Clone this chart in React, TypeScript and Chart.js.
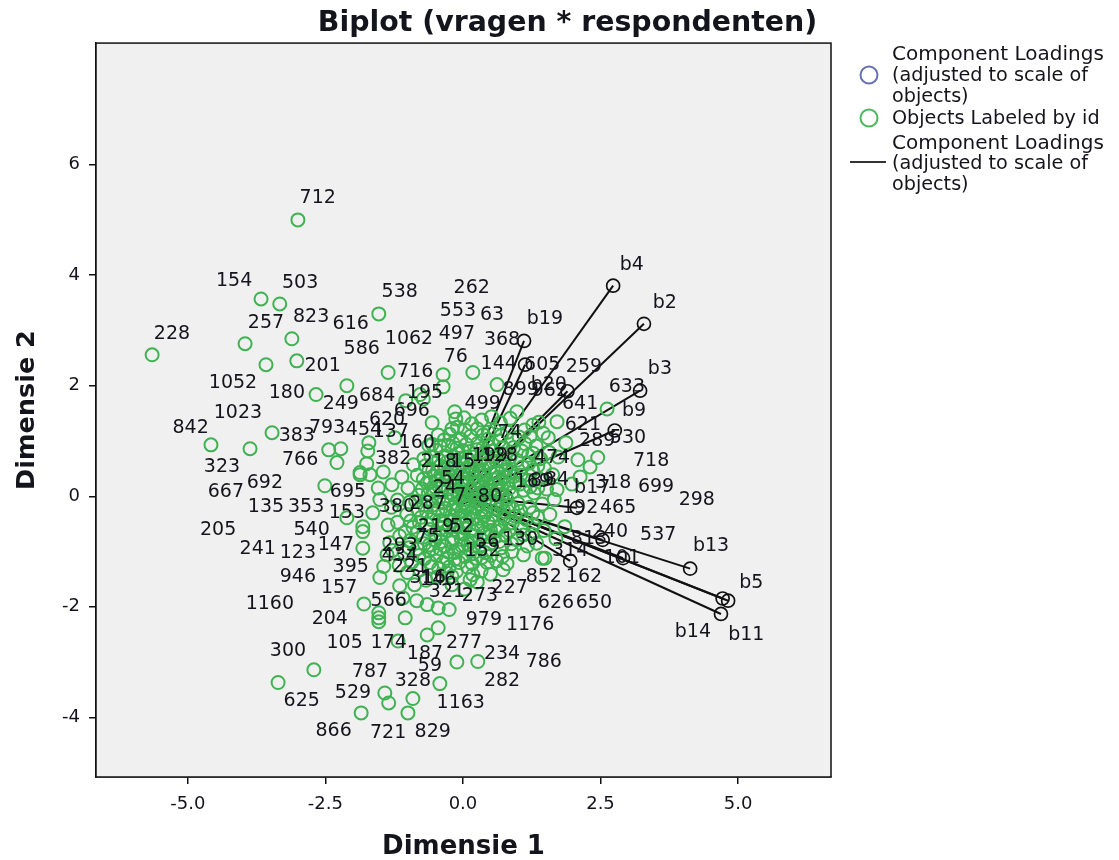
import React, { useEffect, useRef } from "react";
import { Chart, registerables } from "chart.js";

Chart.register(...registerables);

const FONT = '"DejaVu Sans", sans-serif';
const xTicks = [-5, -2.5, 0, 2.5, 5];
const yTicks = [-4, -2, 0, 2, 4, 6];
const xRange = [-6.67, 6.69];
const yRange = [-5.08, 8.2];

const loadingNames = ["b4", "b2", "b3", "b9", "b19", "b7", "b20", "b13", "b5", "b11", "b14", "b17", "b1", "b8", "b6", "b10", "b12"];
const loadingX = [2.73, 3.29, 3.22, 2.76, 1.11, 1.13, 1.9, 4.13, 4.72, 4.82, 4.69, 0.78, 2.07, 2.91, 2.54, 1.95, 0.0];
const loadingY = [3.81, 3.12, 1.91, 1.19, 2.81, 2.38, 1.9, -1.31, -1.85, -1.89, -2.13, 0.0, -0.21, -1.12, -0.79, -1.17, -0.02];

const outerObjects: [number, number][] = [
  [-3.0, 5.0], [-3.67, 3.57], [-3.33, 3.48], [-1.53, 3.3], [-3.96, 2.76], [-3.11, 2.85], [-5.65, 2.56], [-3.58, 2.38],
  [-3.02, 2.45], [-1.36, 2.24], [-0.36, 2.2], [-0.36, 1.98], [-2.11, 2.0], [-2.67, 1.84], [-1.04, 1.73], [-0.78, 1.84],
  [-0.72, 1.76], [-3.47, 1.15], [-4.58, 0.93], [-3.87, 0.86], [-2.44, 0.84], [-2.22, 0.86], [-2.29, 0.61], [-0.56, 1.33],
  [-1.24, 1.06], [-1.71, 0.97], [-1.73, 0.82], [-1.75, 0.59], [-1.45, 0.44], [-1.87, 0.43], [-2.11, -0.39], [-1.64, -0.3],
  [-1.82, -0.55], [-1.82, -0.64], [-1.82, -0.94], [-1.38, -1.06], [-1.44, -1.27], [-1.51, -1.47], [-1.15, -1.62], [-1.8, -1.95],
  [-1.53, -2.11], [-1.53, -2.2], [-1.53, -2.27], [-1.09, -1.84], [-1.05, -2.2], [-0.84, -1.89], [-0.65, -1.96], [-0.45, -2.02],
  [-0.25, -2.05], [-1.18, -2.62], [-0.45, -2.38], [-0.65, -2.51], [-2.71, -3.14], [-3.36, -3.37], [-0.11, -3.0], [0.27, -2.99],
  [-0.42, -3.39], [-1.42, -3.56], [-1.35, -3.74], [-0.91, -3.66], [-1.0, -3.92], [-1.85, -3.92], [0.73, -1.33], [2.62, 1.58],
  [2.09, 0.66], [2.45, 0.7], [2.31, 0.53], [2.13, 0.35], [1.98, 0.22], [1.87, 0.97], [1.71, 1.35], [1.85, -0.55],
  [1.44, -1.12], [1.49, -1.12], [-2.51, 0.19], [-1.54, 0.15], [-1.51, -0.06], [-1.87, 0.39], [-1.69, 0.39], [-1.29, 0.21],
  [-1.0, 0.15], [-1.11, 0.35], [-0.9, 0.57], [-0.65, 0.24], [-1.36, -0.52], [-1.33, -0.84], [0.89, -1.0], [0.44, -1.2],
  [0.13, -1.51], [-0.29, -1.39], [1.71, 0.12], [1.55, 1.06], [1.27, 1.29], [0.98, 1.53], [0.62, 2.02], [0.18, 2.24],
  [-0.15, 1.53], [-0.13, 1.4], [-0.1, 1.25], [-0.45, 1.11],
];

const coreObjects: [number, number][] = [
  [0.02, 1.42], [0.16, 1.31], [0.34, 1.38], [0.52, 1.44], [0.68, 1.33], [0.86, 1.41], [1.12, 1.2], [1.38, 1.34],
  [1.46, 1.14], [1.02, 1.07], [0.81, 1.16], [0.58, 1.2], [0.37, 1.11], [0.14, 1.09], [-0.04, 1.03], [-0.27, 0.92],
  [-0.49, 0.83], [-0.71, 0.68], [-0.33, 0.73], [-0.11, 0.87], [0.06, 0.94], [0.27, 0.96], [0.47, 0.9], [0.66, 1.0],
  [0.92, 0.88], [1.13, 0.95], [1.33, 0.91], [1.57, 0.79], [1.73, 0.71], [1.41, 0.68], [1.19, 0.74], [0.98, 0.65],
  [0.77, 0.76], [0.55, 0.71], [0.36, 0.78], [0.18, 0.71], [-0.02, 0.69], [-0.19, 0.58], [-0.41, 0.55], [-0.62, 0.46],
  [-0.83, 0.38], [-0.51, 0.36], [-0.27, 0.41], [-0.06, 0.5], [0.12, 0.55], [0.3, 0.59], [0.49, 0.52], [0.69, 0.56],
  [0.88, 0.44], [1.08, 0.53], [1.27, 0.47], [1.48, 0.51], [1.63, 0.39], [1.39, 0.31], [1.18, 0.29], [0.97, 0.24],
  [0.76, 0.35], [0.57, 0.3], [0.39, 0.38], [0.21, 0.33], [0.03, 0.31], [-0.15, 0.24], [-0.36, 0.2], [-0.54, 0.09],
  [-0.8, 0.02], [-0.97, -0.11], [-1.19, -0.07], [-0.71, -0.16], [-0.44, -0.05], [-0.23, 0.06], [-0.04, 0.14], [0.14, 0.12],
  [0.33, 0.18], [0.51, 0.11], [0.71, 0.15], [0.89, 0.07], [1.1, 0.11], [1.29, 0.06], [1.52, 0.13], [1.66, -0.06],
  [1.44, -0.14], [1.21, -0.2], [1.0, -0.13], [0.8, -0.06], [0.62, -0.12], [0.42, -0.04], [0.23, -0.09], [0.05, -0.05],
  [-0.13, -0.13], [-0.31, -0.22], [-0.52, -0.31], [-0.76, -0.38], [-1.02, -0.33], [-1.19, -0.47], [-0.91, -0.56], [-0.66, -0.5],
  [-0.43, -0.44], [-0.21, -0.36], [-0.03, -0.28], [0.16, -0.3], [0.35, -0.24], [0.55, -0.33], [0.74, -0.27], [0.95, -0.36],
  [1.15, -0.42], [1.36, -0.38], [1.58, -0.33], [1.69, -0.77], [1.47, -0.62], [1.26, -0.69], [1.05, -0.58], [0.84, -0.49],
  [0.64, -0.56], [0.46, -0.47], [0.27, -0.51], [0.07, -0.46], [-0.11, -0.55], [-0.3, -0.62], [-0.5, -0.69], [-0.72, -0.74],
  [-0.96, -0.8], [-1.15, -0.72], [-1.28, -0.98], [-1.07, -1.02], [-0.83, -0.95], [-0.61, -0.88], [-0.39, -0.82], [-0.18, -0.76],
  [0.01, -0.68], [0.19, -0.72], [0.38, -0.66], [0.57, -0.75], [0.77, -0.7], [0.98, -0.78], [1.17, -0.9], [1.34, -0.85],
  [1.1, -1.06], [0.7, -0.93], [0.49, -0.86], [0.29, -0.92], [0.09, -0.87], [-0.08, -0.96], [-0.27, -1.01], [-0.48, -1.07],
  [-0.7, -1.13], [-0.93, -1.2], [-1.16, -1.25], [-1.01, -1.38], [-0.78, -1.33], [-0.57, -1.27], [-0.36, -1.2], [-0.15, -1.14],
  [0.04, -1.09], [0.23, -1.12], [0.61, -1.17], [0.8, -1.22], [0.33, -1.35], [0.08, -1.28], [-0.12, -1.36], [-0.46, -1.46],
  [-0.67, -1.52], [-0.2, -1.6], [0.03, -1.68], [0.26, -1.55], [0.5, -1.41], [-0.88, -1.6], [-0.1, 0.33], [0.1, -0.18],
  [0.28, 0.02], [0.44, 0.24], [0.62, 0.43], [-0.3, 0.31], [-0.18, -0.2], [0.32, -0.4], [0.72, 0.02], [0.18, 0.45],
  [-0.08, 0.78], [0.25, 0.84], [0.45, 1.03], [-0.24, 1.12], [-0.34, 1.02], [-0.62, 0.92], [-0.16, -0.6], [0.13, -0.98],
  [-0.4, -0.58], [-0.55, -0.95], [-0.25, -1.28], [0.4, -1.02], [0.6, -0.63], [0.9, -0.22], [1.05, 0.38], [0.83, 0.58],
];

const denseObjects: [number, number][] = [
  [-0.58, 0.71], [-0.44, 0.66], [-0.29, 0.62], [-0.16, 0.71], [-0.03, 0.59], [0.08, 0.66], [0.22, 0.6], [0.34, 0.67],
  [0.46, 0.61], [0.6, 0.64], [0.73, 0.67], [0.86, 0.71], [-0.68, 0.55], [-0.55, 0.47], [-0.46, 0.44], [-0.33, 0.49],
  [-0.22, 0.5], [-0.11, 0.42], [0.0, 0.44], [0.1, 0.41], [0.25, 0.47], [0.37, 0.48], [0.52, 0.41], [0.64, 0.34],
  [0.78, 0.48], [0.92, 0.36], [-0.72, 0.31], [-0.6, 0.25], [-0.47, 0.28], [-0.37, 0.37], [-0.24, 0.28], [-0.13, 0.18],
  [-0.02, 0.22], [0.08, 0.26], [0.19, 0.22], [0.29, 0.27], [0.47, 0.18], [0.59, 0.21], [0.68, 0.26], [0.82, 0.22],
  [-0.74, 0.13], [-0.63, 0.05], [-0.5, 0.16], [-0.39, 0.08], [-0.27, 0.13], [-0.17, 0.03], [-0.07, 0.07], [0.04, 0.03],
  [0.19, 0.06], [0.38, 0.09], [0.58, 0.03], [0.66, 0.09], [0.84, 0.14], [-0.86, -0.09], [-0.62, -0.08], [-0.55, -0.16],
  [-0.36, -0.12], [-0.27, -0.06], [-0.09, -0.02], [0.0, -0.12], [0.31, -0.14], [0.15, -0.06], [0.5, -0.18], [0.7, -0.14],
  [-0.82, -0.24], [-0.66, -0.28], [-0.45, -0.24], [-0.37, -0.33], [-0.12, -0.26], [0.05, -0.2], [0.24, -0.22], [0.42, -0.29],
  [0.63, -0.24], [0.83, -0.17], [-0.95, -0.45], [-0.79, -0.48], [-0.58, -0.42], [-0.34, -0.49], [-0.22, -0.46], [-0.07, -0.4],
  [0.04, -0.36], [0.19, -0.41], [0.38, -0.37], [0.55, -0.44], [0.74, -0.4], [0.9, -0.48], [-1.05, -0.65], [-0.83, -0.66],
  [-0.6, -0.6], [-0.41, -0.68], [-0.25, -0.56], [-0.08, -0.66], [0.03, -0.58], [0.17, -0.62], [0.34, -0.56], [0.5, -0.62],
  [0.68, -0.55], [0.85, -0.62], [-0.98, -0.93], [-0.7, -0.86], [-0.5, -0.8], [-0.33, -0.91], [-0.2, -0.84], [-0.03, -0.78],
  [0.14, -0.81], [0.31, -0.76], [0.47, -0.73], [0.66, -0.82], [0.88, -0.86], [-0.8, -1.07], [-0.62, -0.99], [-0.42, -0.95],
  [-0.16, -1.02], [-0.02, -0.9], [0.18, -1.04], [0.34, -1.11], [0.51, -1.07], [0.72, -1.09], [-0.6, -1.2], [-0.3, -1.12],
  [-0.07, -1.2], [0.17, -1.22], [-0.44, -1.31], [-0.2, -1.45], [0.18, -1.42], [-0.56, 0.94], [-0.42, 0.91], [-0.18, 0.96],
  [-0.01, 0.83], [0.12, 0.81], [0.36, 0.87], [0.54, 0.82], [0.72, 0.88], [-0.2, 1.22], [0.04, 1.2], [0.26, 1.22],
  [0.46, 1.16], [0.7, 1.1], [0.9, 1.03], [1.22, 1.08], [1.07, 0.82], [1.27, 0.78], [1.2, 0.6], [1.36, 0.55],
  [1.03, 0.22], [1.22, 0.17], [1.36, 0.15], [1.05, -0.27], [1.27, -0.3], [1.1, -0.7], [1.28, -0.52], [-1.3, -0.2],
];

const labelRows: [string, number, number][] = [
  ["712", -2.64, 5.4], ["154", -4.16, 3.9], ["503", -2.96, 3.86], ["538", -1.15, 3.7], ["262", 0.16, 3.77], ["553", -0.09, 3.36],
  ["63", 0.53, 3.27], ["823", -2.76, 3.25], ["616", -2.04, 3.12], ["257", -3.58, 3.14], ["1062", -0.98, 2.85], ["497", -0.11, 2.94],
  ["368", 0.71, 2.83], ["228", -5.29, 2.94], ["586", -1.84, 2.67], ["76", -0.13, 2.51], ["144", 0.65, 2.4], ["605", 1.44, 2.38],
  ["259", 2.2, 2.34], ["201", -2.55, 2.36], ["716", -0.87, 2.25], ["1052", -4.18, 2.05], ["180", -3.2, 1.86], ["195", -0.69, 1.86],
  ["899", 1.05, 1.93], ["962", 1.58, 1.91], ["b20", 1.56, 2.02], ["633", 2.98, 1.98], ["641", 2.13, 1.67], ["249", -2.22, 1.66],
  ["684", -1.56, 1.82], ["499", 0.36, 1.67], ["696", -0.93, 1.55], ["1023", -4.09, 1.51], ["620", -1.38, 1.38], ["842", -4.95, 1.24],
  ["793", -2.47, 1.24], ["454", -1.8, 1.19], ["137", -1.31, 1.17], ["383", -3.02, 1.09], ["160", -0.84, 0.97], ["621", 2.18, 1.29],
  ["530", 3.0, 1.06], ["289", 2.44, 0.99], ["74", 0.85, 1.15], ["766", -2.96, 0.66], ["382", -1.27, 0.68], ["218", -0.44, 0.61],
  ["15", 0.0, 0.62], ["199", 0.49, 0.73], ["128", 0.67, 0.73], ["323", -4.38, 0.53], ["474", 1.62, 0.7], ["718", 3.42, 0.64],
  ["b17", 2.35, 0.14], ["318", 2.73, 0.23], ["699", 3.51, 0.17], ["298", 4.25, -0.06], ["692", -3.6, 0.23], ["667", -4.31, 0.08],
  ["695", -2.09, 0.08], ["54", -0.18, 0.32], ["24", -0.33, 0.15], ["169", 1.27, 0.26], ["89", 1.44, 0.28], ["84", 1.71, 0.3],
  ["135", -3.58, -0.19], ["353", -2.85, -0.19], ["153", -2.11, -0.3], ["380", -1.2, -0.19], ["287", -0.64, -0.15], ["7", -0.05, 0.0],
  ["80", 0.49, -0.01], ["192", 2.13, -0.21], ["465", 2.82, -0.21], ["205", -4.45, -0.61], ["540", -2.75, -0.61], ["240", 2.67, -0.64],
  ["537", 3.55, -0.71], ["219", -0.49, -0.55], ["52", -0.02, -0.55], ["241", -3.73, -0.95], ["123", -3.0, -1.02], ["147", -2.31, -0.88],
  ["130", 1.04, -0.79], ["75", -0.64, -0.73], ["293", -1.15, -0.91], ["434", -1.15, -1.08], ["152", 0.36, -0.99], ["56", 0.44, -0.82],
  ["b13", 4.51, -0.91], ["395", -2.04, -1.29], ["221", -0.96, -1.29], ["852", 1.47, -1.46], ["162", 2.2, -1.46], ["946", -3.0, -1.46],
  ["316", -0.64, -1.48], ["146", -0.45, -1.51], ["157", -2.25, -1.67], ["321", -0.29, -1.73], ["273", 0.31, -1.8], ["227", 0.85, -1.67],
  ["1160", -3.51, -1.95], ["566", -1.35, -1.89], ["626", 1.69, -1.93], ["650", 2.38, -1.93], ["204", -2.42, -2.22], ["979", 0.38, -2.24],
  ["1176", 1.22, -2.33], ["105", -2.15, -2.65], ["174", -1.35, -2.65], ["187", -0.69, -2.85], ["277", 0.02, -2.65], ["234", 0.71, -2.85],
  ["786", 1.47, -3.0], ["300", -3.18, -2.81], ["59", -0.6, -3.07], ["787", -1.69, -3.18], ["328", -0.91, -3.34], ["282", 0.71, -3.34],
  ["529", -2.0, -3.57], ["625", -2.93, -3.7], ["1163", -0.04, -3.74], ["866", -2.35, -4.24], ["721", -1.36, -4.28], ["829", -0.55, -4.26],
  ["b14", 4.18, -2.45], ["b11", 5.15, -2.52], ["b5", 5.24, -1.57], ["b2", 3.67, 3.5], ["b4", 3.07, 4.19], ["b3", 3.58, 2.31],
  ["b9", 3.11, 1.55], ["b19", 1.49, 3.21], ["813", 2.29, -0.77], ["314", 1.95, -1.0], ["101", 2.89, -1.11],
];

const legendLoadings = ["Component Loadings", "(adjusted to scale of", "objects)"];
const legendObjects = ["Objects Labeled by id"];

const TEXT = "#14141c";

const plotFrame = {
  id: "plotFrame",
  beforeDatasetsDraw(chart: any) {
    const { ctx, chartArea: a } = chart;
    ctx.save();
    ctx.fillStyle = "#f0f0f0";
    ctx.fillRect(a.left, a.top, a.right - a.left, a.bottom - a.top);
    ctx.restore();
  },
  afterDraw(chart: any) {
    const { ctx, chartArea: a } = chart;
    ctx.save();
    ctx.strokeStyle = "#111";
    ctx.lineWidth = 1.5;
    ctx.strokeRect(a.left, a.top, a.right - a.left, a.bottom - a.top);
    ctx.restore();
  },
};

const pointLabels = {
  id: "pointLabels",
  afterDatasetsDraw(chart: any) {
    const { ctx, scales } = chart;
    ctx.save();
    ctx.font = `19px ${FONT}`;
    ctx.fillStyle = TEXT;
    ctx.textAlign = "center";
    ctx.textBaseline = "middle";
    for (const [text, x, y] of labelRows) {
      ctx.fillText(text, scales.x.getPixelForValue(x), scales.y.getPixelForValue(y));
    }
    ctx.restore();
  },
};

const sideLegend = {
  id: "sideLegend",
  afterDraw(chart: any) {
    const { ctx } = chart;
    const writeLoadings = (top: number, step: number) => {
      legendLoadings.forEach((t, i) => {
        ctx.font = `${i === 0 ? 20 : 19.2}px ${FONT}`;
        ctx.fillText(t, 892, top + i * step);
      });
    };
    ctx.save();
    ctx.fillStyle = TEXT;
    ctx.textAlign = "left";
    ctx.textBaseline = "middle";
    writeLoadings(55, 21);
    ctx.font = `19.2px ${FONT}`;
    legendObjects.forEach((t) => ctx.fillText(t, 892, 119));
    writeLoadings(144, 20.5);
    ctx.lineWidth = 2;
    ctx.strokeStyle = "#6573b5";
    ctx.beginPath();
    ctx.arc(869, 75, 8.5, 0, Math.PI * 2);
    ctx.stroke();
    ctx.strokeStyle = "#4cb860";
    ctx.beginPath();
    ctx.arc(869, 118, 8.5, 0, Math.PI * 2);
    ctx.stroke();
    ctx.strokeStyle = "#333";
    ctx.beginPath();
    ctx.moveTo(850, 162);
    ctx.lineTo(886, 162);
    ctx.stroke();
    ctx.restore();
  },
};

export default function App() {
  const ref = useRef<HTMLCanvasElement>(null);
  useEffect(() => {
    const objects = [...outerObjects, ...coreObjects, ...denseObjects].map(([x, y]) => ({ x, y }));
    const chart = new Chart(ref.current!, {
      type: "scatter",
      data: {
        datasets: [
          {
            label: "Objects Labeled by id",
            data: objects,
            pointRadius: 6.5,
            pointBorderWidth: 2,
            pointBorderColor: "#3fb352",
            pointBackgroundColor: "transparent",
            showLine: false,
          },
          ...loadingNames.map((name, i) => ({
            label: name,
            data: [
              { x: 0, y: 0 },
              { x: loadingX[i], y: loadingY[i] },
            ],
            showLine: true,
            borderColor: "#111",
            borderWidth: 2,
            pointRadius: (c: any) => (c.dataIndex === 0 ? 0 : 6.5),
            pointBorderWidth: 1.7,
            pointBorderColor: "#111",
            pointBackgroundColor: "transparent",
          })),
        ],
      },
      options: {
        responsive: false,
        animation: false,
        plugins: {
          legend: { display: false },
          tooltip: { enabled: false },
          title: {
            display: true,
            text: "Biplot (vragen * respondenten)",
            color: TEXT,
            font: { family: FONT, size: 28.4, weight: "bold" },
            padding: { top: 7, bottom: 2 },
          },
        },
        scales: {
          x: {
            type: "linear",
            min: xRange[0],
            max: xRange[1],
            afterBuildTicks: (s: any) => {
              s.ticks = xTicks.map((value) => ({ value }));
            },
            afterFit: (s: any) => {
              s.height = 83;
            },
            ticks: {
              color: TEXT,
              font: { family: FONT, size: 18 },
              maxRotation: 0,
              padding: 10,
              callback: (v: any) => Number(v).toFixed(1),
            },
            grid: { drawOnChartArea: false, color: "#111", tickLength: 7, lineWidth: 1.5 },
            border: { color: "#111", width: 1.5 },
            title: {
              display: true,
              text: "Dimensie 1",
              color: TEXT,
              font: { family: FONT, size: 26, weight: "bold" },
              padding: { top: 0, bottom: -3 },
            },
          },
          y: {
            type: "linear",
            min: yRange[0],
            max: yRange[1],
            afterBuildTicks: (s: any) => {
              s.ticks = yTicks.map((value) => ({ value }));
            },
            afterFit: (s: any) => {
              s.width = 96;
            },
            ticks: {
              color: TEXT,
              font: { family: FONT, size: 18 },
              padding: 9,
              callback: (v: any) => String(v),
            },
            grid: { drawOnChartArea: false, color: "#111", tickLength: 7, lineWidth: 1.5 },
            border: { color: "#111", width: 1.5 },
            title: {
              display: true,
              text: "Dimensie 2",
              color: TEXT,
              font: { family: FONT, size: 25.5, weight: "bold" },
              padding: { top: 12, bottom: 0 },
            },
          },
          legendGutter: {
            axis: "y",
            position: "right",
            afterFit: (s: any) => {
              s.width = 304;
            },
            ticks: { display: false },
            grid: { display: false },
            border: { display: false },
          },
        },
      },
      plugins: [plotFrame, pointLabels, sideLegend],
    } as any);
    return () => chart.destroy();
  }, []);
  return (
    <div style={{ position: "fixed", left: 0, top: 0, width: 1119, height: 860, overflow: "hidden", background: "#fff" }}>
      <canvas ref={ref} width={1135} height={860} style={{ display: "block", filter: "blur(0.6px)" }} />
    </div>
  );
}
